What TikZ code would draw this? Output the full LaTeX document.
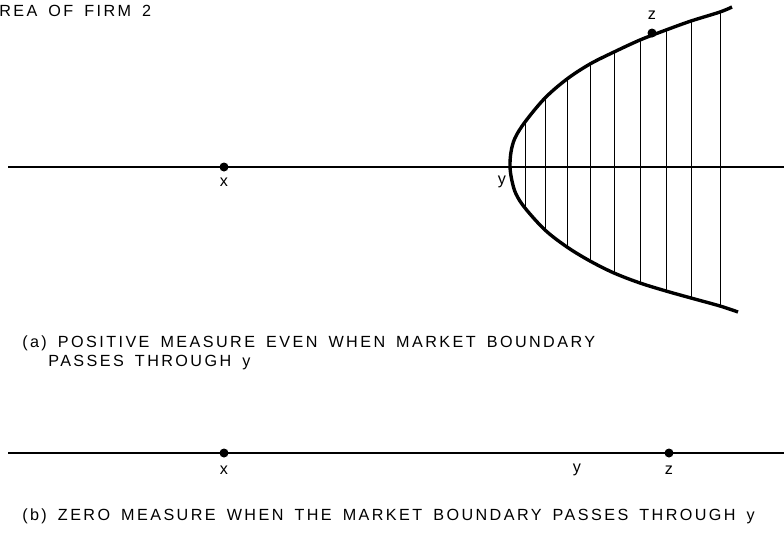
\documentclass[tikz,border=0pt]{standalone}
\usepackage{fontspec}
\setmainfont{Liberation Sans}
\newfontfamily\capfont{Liberation Sans}[LetterSpace=15, WordSpace=1.6]
\usetikzlibrary{positioning}

\begin{document}
\begin{tikzpicture}[x=0.25mm, y=-0.25mm,
	axis/.style={line width=1.1pt},
	boundary/.style={line width=2.4pt},
	hatch/.style={line width=0.6pt},
	lbl/.style={font=\fontsize{11.5}{14}\selectfont, inner sep=0pt},
	caption/.style={font=\capfont\fontsize{11.5}{14}\selectfont, inner sep=0pt, anchor=west}]
	\useasboundingbox (0,0) rectangle (784,533);
	% (a) market area in the plane
	\coordinate (Xa) at (224,167);
	\coordinate (Ya) at (510,167);
	\coordinate (Za) at (652,33);
	\draw[axis] (8,167) -- (784,167);
	\foreach \h/\u/\l in {525/122/208, 545/98/230, 567/79/247, 590/64/261, 614/52/273, 640/40/283, 666/30/291, 691/21/298, 720/12/306}
	\draw[hatch] (\h,\u) -- (\h,\l);
	\draw[boundary] plot[smooth, tension=0.55] coordinates {(732,7) (720,12) (691,21) (666,30) (640,40) (614,52) (590,64) (567,79) (545,98) (525,122) (515,138) (511,152) (510,167) (512,181) (516,194) (525,208) (545,230) (567,247) (590,261) (614,273) (640,283) (666,291) (691,298) (720,306) (738,312)};
	\foreach \p in {Xa, Za}
	\fill (\p) circle (4.5);
	\node[lbl] (xa) at (224,182) {x};
	\node[lbl] (ya) at (502,182) {y};
	\node[lbl] (za) at (652,15) {z};
	\node[caption] (title) at (-1,11) {REA OF FIRM 2};
	\node[caption] (capa1) at (22,343) {(a) POSITIVE MEASURE EVEN WHEN MARKET BOUNDARY};
	\node[caption] (capa2) at (48,363) {PASSES THROUGH y};
	% (b) market area on the line
	\coordinate (Xb) at (224,453);
	\coordinate (Yb) at (576,453);
	\coordinate (Zb) at (669,453);
	\draw[axis] (8,453) -- (Yb);
	\draw[line width=1.9pt] (Yb) -- (784,453);
	\foreach \p in {Xb, Zb}
	\fill (\p) circle (4.5);
	\node[lbl] (xb) at (224,470) {x};
	\node[lbl] (yb) at (577,470) {y};
	\node[lbl] (zb) at (669,470) {z};
	\node[caption] (capb) at (22,516) {(b) ZERO MEASURE WHEN THE MARKET BOUNDARY PASSES THROUGH y};
\end{tikzpicture}
\end{document}
